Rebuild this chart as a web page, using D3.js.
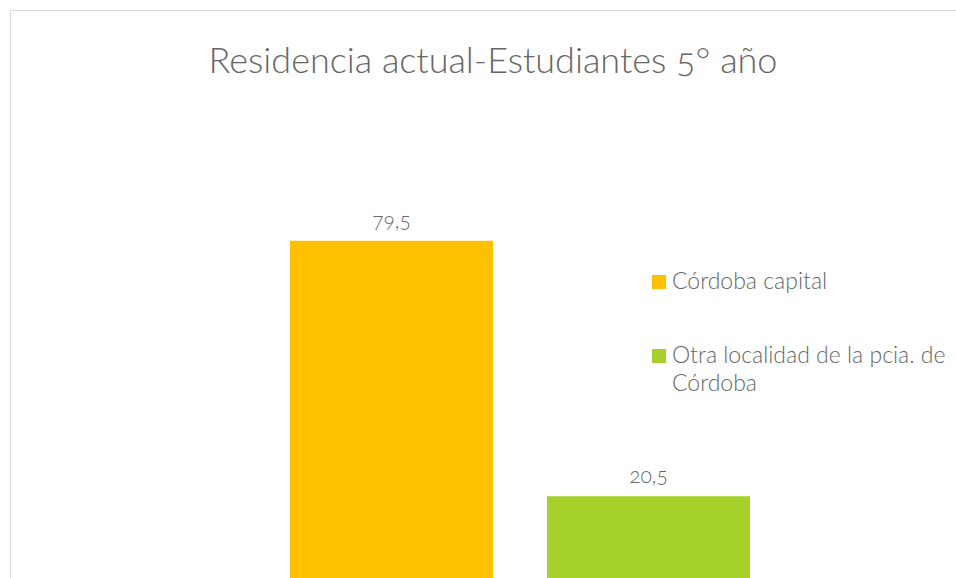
<!DOCTYPE html>
<html>
<head>
<meta charset="utf-8">
<script src="https://cdn.jsdelivr.net/npm/d3@7"></script>
<style>
  body { margin: 0; background: #fff; }
  text { font-family: Lato, "Open Sans", sans-serif; font-feature-settings: "onum" 1; fill: #666666; font-weight: 300; }
</style>
</head>
<body>
<script>
var categories = ["Córdoba capital", "Otra localidad de la pcia. de Córdoba"];
var values = [79.5, 20.5];
var labels = ["79,5", "20,5"];
var colors = ["#FFC000", "#A6D02A"];
var legendLines = [["Córdoba capital"], ["Otra localidad de la pcia. de", "Córdoba"]];

var W = 956, H = 578;

var svg = d3.select("body").append("svg")
    .attr("width", W)
    .attr("height", H);

// chart border (runs off the right and bottom edge)
svg.append("rect")
    .attr("x", 10.5)
    .attr("y", 10.5)
    .attr("width", 1000)
    .attr("height", 700)
    .attr("fill", "none")
    .attr("stroke", "#d9d9d9")
    .attr("stroke-width", 1);

svg.append("text")
    .attr("x", 493)
    .attr("y", 73)
    .attr("text-anchor", "middle")
    .style("font-size", "36px")
    .text("Residencia actual-Estudiantes 5° año");

var x = d3.scaleBand()
    .domain(categories)
    .range([290, 750])
    .paddingInner(0.21)
    .paddingOuter(0);

var y = d3.scaleLinear()
    .domain([0, 90])
    .range([585, 585 - 90 * 4.33]);

svg.selectAll(".bar")
    .data(values)
    .enter().append("rect")
    .attr("class", "bar")
    .attr("x", function(d, i) { return x(categories[i]); })
    .attr("y", function(d) { return y(d); })
    .attr("width", x.bandwidth())
    .attr("height", function(d) { return y(0) - y(d); })
    .attr("fill", function(d, i) { return colors[i]; });

svg.selectAll(".lbl")
    .data(values)
    .enter().append("text")
    .attr("class", "lbl")
    .attr("x", function(d, i) { return x(categories[i]) + x.bandwidth() / 2; })
    .attr("y", function(d) { return y(d) - 13; })
    .attr("text-anchor", "middle")
    .style("font-size", "21px")
    .text(function(d, i) { return labels[i]; });

// legend
var legendY = [275, 349];
var leg = svg.selectAll(".leg")
    .data(categories)
    .enter().append("g")
    .attr("class", "leg")
    .attr("transform", function(d, i) { return "translate(652," + legendY[i] + ")"; });

leg.append("rect")
    .attr("width", 14)
    .attr("height", 14)
    .attr("fill", function(d, i) { return colors[i]; });

leg.append("text")
    .attr("x", 20)
    .attr("y", 14)
    .style("font-size", "23px")
    .each(function(d, i) {
        var t = d3.select(this);
        legendLines[i].forEach(function(line, j) {
            t.append("tspan")
                .attr("x", 20)
                .attr("dy", j === 0 ? 0 : 28)
                .text(line);
        });
    });
</script>
</body>
</html>
